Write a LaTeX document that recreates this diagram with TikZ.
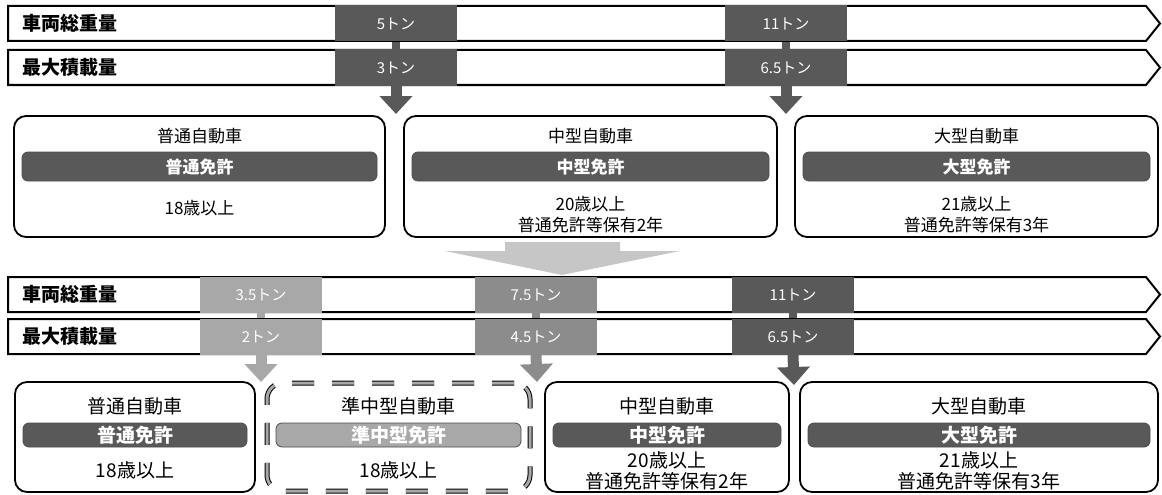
\documentclass[tikz,border=0pt]{standalone}
\usepackage{fontspec}
\setmainfont{Noto Sans CJK JP}
\usetikzlibrary{arrows.meta}

\definecolor{valdark}{HTML}{595959}
\definecolor{valmid}{HTML}{8C8C8C}
\definecolor{vallight}{HTML}{A8A8A8}
\definecolor{bigarrow}{HTML}{C6C6C6}

\tikzset{
  rowbar/.style={draw=black, line width=2pt, fill=white},
  rowlabel/.style={anchor=west, inner sep=0pt, font=\fontsize{19}{19}\selectfont\bfseries},
  valbox/.style={fill=#1, minimum width=122pt, minimum height=36pt, inner sep=0pt,
    text=white, font=\fontsize{15}{15}\selectfont},
  stem/.style={draw=#1, line width=8pt},
  downarrow/.style={draw=#1, line width=11pt, -{Triangle[width=32pt,length=18pt]}},
  carbox/.style={draw=black, fill=white, line width=1.8pt, rounded corners=12pt, inner sep=0pt},
  newbox/.style={draw=black, line width=1pt, double=vallight, double distance=3pt,
    dash pattern=on 22pt off 18pt, rounded corners=16pt, inner sep=0pt},
  licbar/.style={fill=#1, draw=black!70, line width=0.8pt, rounded corners=6pt,
    inner sep=0pt, text=white},
  oldtext/.style={inner sep=0pt, font=\fontsize{17}{17}\selectfont},
  newtext/.style={inner sep=0pt, font=\fontsize{19}{19}\selectfont}
}

\begin{document}
\begin{tikzpicture}[x=1pt,y=-1pt]
\useasboundingbox (0,0) rectangle (1162,495);

% before: weight rows
\draw[rowbar] (8,6) -- (1146,6) -- (1160,23.5) -- (1146,41) -- (8,41) -- cycle;
\draw[rowbar] (8,50) -- (1146,50) -- (1160,67.5) -- (1146,85) -- (8,85) -- cycle;
\node[rowlabel] (gwlabel) at (22,23.5) {車両総重量};
\node[rowlabel] (mllabel) at (22,67.5) {最大積載量};

\node[valbox=valdark] (gw5) at (396,23.5) {5トン};
\node[valbox=valdark] (ml3) at (396,67.5) {3トン};
\node[valbox=valdark] (gw11) at (786,23.5) {11トン};
\node[valbox=valdark] (ml65) at (786,67.5) {6.5トン};

\coordinate (tipA) at (396,114);
\coordinate (tipB) at (786,114);
\draw[stem=valdark] (gw5.south) -- (ml3.north);
\draw[stem=valdark] (gw11.south) -- (ml65.north);
\draw[downarrow=valdark] (ml3.south) -- (tipA);
\draw[downarrow=valdark] (ml65.south) -- (tipB);

% before: licences
\node[carbox, minimum width=371pt, minimum height=121pt] (oldA) at (199.5,176.5) {};
\node[carbox, minimum width=373pt, minimum height=121pt] (oldB) at (590.5,176.5) {};
\node[carbox, minimum width=363pt, minimum height=121pt] (oldC) at (976.5,176.5) {};

\node[oldtext] (nameA) at (199.5,136) {普通自動車};
\node[oldtext] (nameB) at (590.5,136) {中型自動車};
\node[oldtext] (nameC) at (976.5,136) {大型自動車};
\node[licbar=valdark, minimum width=355pt, minimum height=29pt, oldtext] (licA) at (199.5,166.5) {\bfseries 普通免許};
\node[licbar=valdark, minimum width=357pt, minimum height=29pt, oldtext] (licB) at (590.5,166.5) {\bfseries 中型免許};
\node[licbar=valdark, minimum width=347pt, minimum height=29pt, oldtext] (licC) at (976.5,166.5) {\bfseries 大型免許};
\node[oldtext] (ageA) at (199.5,208) {18歳以上};
\node[oldtext] (ageB) at (590.5,204) {20歳以上};
\node[oldtext] (holdB) at (590.5,225) {普通免許等保有2年};
\node[oldtext] (ageC) at (976.5,204) {21歳以上};
\node[oldtext] (holdC) at (976.5,225) {普通免許等保有3年};

% change
\fill[bigarrow] (505,242) -- (620,242) -- (620,251) -- (680,251) -- (562,275)
  -- (445,251) -- (505,251) -- cycle;

% after: weight rows
\draw[rowbar] (8,277) -- (1146,277) -- (1160,294.5) -- (1146,312) -- (8,312) -- cycle;
\draw[rowbar] (8,319) -- (1146,319) -- (1160,336.5) -- (1146,354) -- (8,354) -- cycle;
\node[rowlabel] (gwlabel2) at (22,294.5) {車両総重量};
\node[rowlabel] (mllabel2) at (22,336.5) {最大積載量};

\node[valbox=vallight] (gw35) at (261,294.5) {3.5トン};
\node[valbox=vallight] (ml2) at (261,336.5) {2トン};
\node[valbox=valmid] (gw75) at (536,294.5) {7.5トン};
\node[valbox=valmid] (ml45) at (536,336.5) {4.5トン};
\node[valbox=valdark] (gw11n) at (793,294.5) {11トン};
\node[valbox=valdark] (ml65n) at (793,336.5) {6.5トン};

\coordinate (tipC) at (261,382);
\coordinate (tipD) at (537,382);
\coordinate (tipE) at (794,385);
\draw[stem=vallight] (gw35.south) -- (ml2.north);
\draw[stem=valmid] (gw75.south) -- (ml45.north);
\draw[stem=valdark] (gw11n.south) -- (ml65n.north);
\draw[downarrow=vallight] (ml2.south) -- (tipC);
\draw[downarrow=valmid] (ml45.south) -- (tipD);
\draw[downarrow=valdark] (ml65n.south) -- (tipE);

% after: licences
\node[carbox, minimum width=240pt, minimum height=110pt] (newA) at (135,437) {};
\node[newbox, minimum width=263pt, minimum height=108pt] (newB) at (398.5,437) {};
\node[carbox, minimum width=244pt, minimum height=110pt] (newC) at (667,437) {};
\node[carbox, minimum width=358pt, minimum height=110pt] (newD) at (979,437) {};

\node[newtext] (nameA2) at (135,406) {普通自動車};
\node[newtext] (nameB2) at (398.5,406) {準中型自動車};
\node[newtext] (nameC2) at (667,406) {中型自動車};
\node[newtext] (nameD2) at (979,406) {大型自動車};
\node[licbar=valdark, minimum width=224pt, minimum height=24pt, newtext] (licA2) at (135,435) {\bfseries 普通免許};
\node[licbar=vallight, minimum width=245pt, minimum height=24pt, newtext] (licB2) at (398.5,435) {\bfseries 準中型免許};
\node[licbar=valdark, minimum width=228pt, minimum height=24pt, newtext] (licC2) at (667,435) {\bfseries 中型免許};
\node[licbar=valdark, minimum width=342pt, minimum height=24pt, newtext] (licD2) at (979,435) {\bfseries 大型免許};
\node[newtext] (ageA2) at (135,470) {18歳以上};
\node[newtext] (ageB2) at (398.5,470) {18歳以上};
\node[newtext] (ageC2) at (667,460) {20歳以上};
\node[newtext] (holdC2) at (667,481) {普通免許等保有2年};
\node[newtext] (ageD2) at (979,460) {21歳以上};
\node[newtext] (holdD2) at (979,481) {普通免許等保有3年};
\end{tikzpicture}
\end{document}
